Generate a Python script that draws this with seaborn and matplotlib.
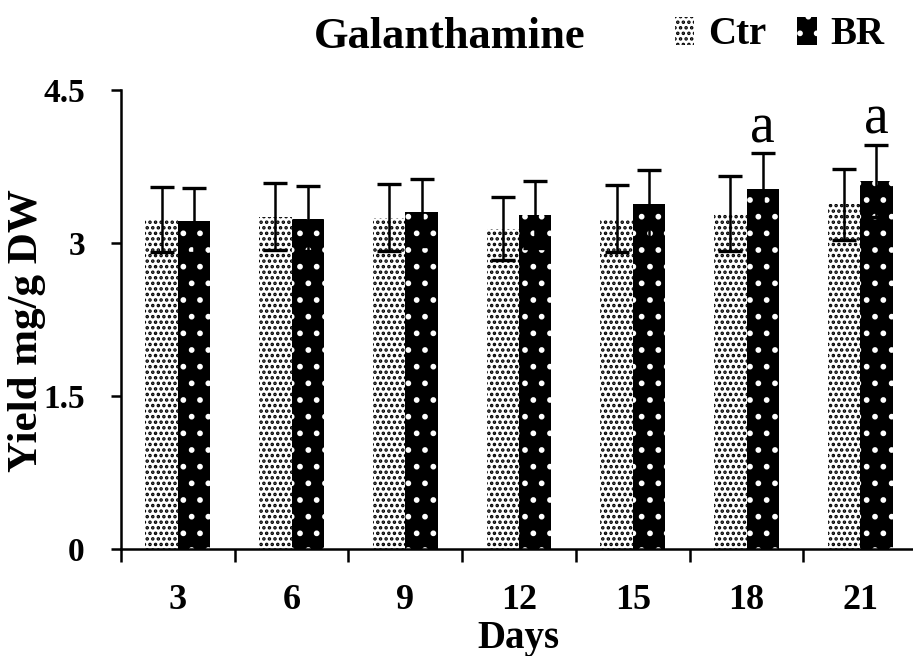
import matplotlib
matplotlib.use("Agg")
import matplotlib.pyplot as plt
import matplotlib.patches as mpatches
import seaborn as sns
import pandas as pd
import numpy as np

days = ['3', '6', '9', '12', '15', '18', '21']
ctr = [3.23, 3.26, 3.25, 3.14, 3.24, 3.29, 3.38]
br = [3.22, 3.24, 3.30, 3.28, 3.38, 3.53, 3.61]
ctr_err = [0.32, 0.33, 0.33, 0.31, 0.33, 0.37, 0.35]
br_err = [0.32, 0.32, 0.33, 0.33, 0.34, 0.35, 0.35]
br_letters = ['', '', '', '', '', 'a', 'a']
groups = ['Ctr', 'BR']
y_ticks = [0, 1.5, 3, 4.5]
y_tick_labels = ['0', '1.5', '3', '4.5']

sns.set_theme(style="white")
plt.rcParams['font.family'] = ['Liberation Serif', 'DejaVu Serif']
plt.rcParams['hatch.linewidth'] = 1.7
plt.rcParams['text.color'] = 'black'
plt.rcParams['axes.labelcolor'] = 'black'
plt.rcParams['xtick.color'] = 'black'
plt.rcParams['ytick.color'] = 'black'

df = pd.DataFrame({
    'Days': days * 2,
    'Yield': ctr + br,
    'Err': ctr_err + br_err,
    'Group': ['Ctr'] * len(days) + ['BR'] * len(days),
})

fig = plt.figure(figsize=(9.13, 6.56), dpi=100)
ax = fig.add_axes([0.1325, 0.163, 0.872, 0.6997])

sns.barplot(data=df, x='Days', y='Yield', hue='Group', order=days,
            hue_order=groups, palette={'Ctr': 'white', 'BR': 'black'},
            width=0.57, errorbar=None, legend=False, ax=ax, linewidth=0)

hatches = {'Ctr': ('...', 'black'), 'BR': ('.', 'white')}
for container, g in zip(ax.containers, groups):
    vals = df[df.Group == g]
    for bar, (_, row) in zip(container, vals.iterrows()):
        h, c = hatches[g]
        bar.set_hatch(h)
        bar.set_edgecolor(c)
        bar.set_linewidth(0)
        cx = bar.get_x() + bar.get_width() / 2
        ax.errorbar(cx, row.Yield, yerr=row.Err, fmt='none', ecolor='black',
                    elinewidth=1.8, capsize=8.5, capthick=2.4, zorder=5)

# significance letters
for bar, v, e, t in zip(ax.containers[1], br, br_err, br_letters):
    if t:
        ax.text(bar.get_x() + bar.get_width() / 2, v + e + 0.11, t,
                ha='center', va='baseline', fontsize=40, color='black')

ax.set_xlim(-0.5, len(days) - 0.5)
ax.set_ylim(0, 4.5)
ax.set_yticks(y_ticks)
ax.set_yticklabels(y_tick_labels, fontsize=24, fontweight='bold')

ax.set_xticks(np.arange(len(days)) - 0.5)
ax.set_xticklabels([])
ax.set_xticks(np.arange(len(days)), minor=True)
ax.set_xticklabels(days, minor=True, fontsize=26, fontweight='bold')
ax.tick_params(axis='x', which='major', direction='out', length=9, width=1.8,
               bottom=True)
ax.tick_params(axis='x', which='minor', length=0, pad=25, bottom=True)
ax.tick_params(axis='y', direction='out', length=7, width=1.8, left=True,
               pad=19)

for s in ['top', 'right']:
    ax.spines[s].set_visible(False)
for s in ['left', 'bottom']:
    ax.spines[s].set_color('black')
    ax.spines[s].set_linewidth(1.8)

ax.set_xlabel('Days', fontsize=28, fontweight='bold')
ax.xaxis.set_label_coords(0.499, -0.155)
ax.set_ylabel('Yield mg/g DW', fontsize=31, fontweight='bold')
ax.yaxis.set_label_coords(-0.094, 0.475)

fig.text(0.493, 1 - 48 / 656, 'Galanthamine', ha='center', va='baseline',
         fontsize=32, fontweight='bold')

handles = [
    mpatches.Patch(facecolor='white', edgecolor='black', hatch='...', linewidth=0, label='Ctr'),
    mpatches.Patch(facecolor='black', edgecolor='white', hatch='.', linewidth=0, label='BR'),
]
leg = fig.legend(handles=handles, loc='center right', bbox_to_anchor=(0.99, 1 - 35 / 656),
                 ncol=2, frameon=False, handlelength=0.5, handleheight=0.7,
                 handletextpad=0.35, columnspacing=0.8, borderpad=0,
                 prop={'family': 'Liberation Serif', 'weight': 'bold', 'size': 28})

fig.savefig('out.png', dpi=100)
